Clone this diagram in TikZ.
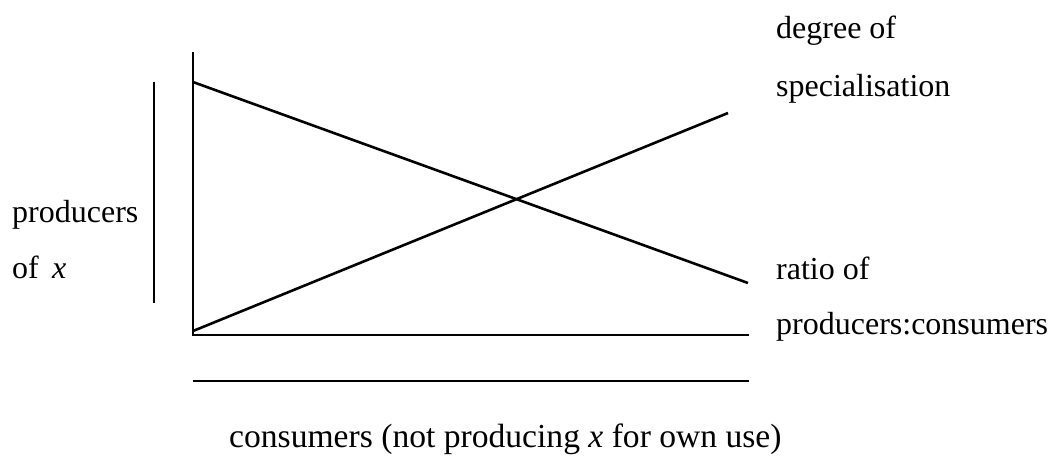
\documentclass[tikz,border=0pt]{standalone}
\usepackage{fontspec}
\setmainfont{Liberation Serif}
\begin{document}
\begin{tikzpicture}[x=1pt,y=-1pt,
  lbl/.style={anchor=base west, inner sep=0pt, font=\fontsize{32}{38}\selectfont},
  axis/.style={line width=2pt},
  trend/.style={line width=2.6pt}]
\useasboundingbox (0,0) rectangle (1056,459);
% axes and bars
\coordinate (ytop) at (193,52);
\coordinate (origin) at (193,335);
\coordinate (xend) at (749,335);
\coordinate (bl) at (193,381);
\coordinate (br) at (749,381);
\coordinate (bartop) at (154,82);
\coordinate (barbot) at (154,303);
% trend lines
\coordinate (s0) at (193,331);
\coordinate (s1) at (728,113);
\coordinate (r0) at (193,82);
\coordinate (r1) at (748,283);
\draw[axis] (ytop) -- (origin) -- (xend);
\draw[axis] (bl) -- (br);
\draw[axis] (bartop) -- (barbot);
\draw[trend] (s0) -- (s1);
\draw[trend] (r0) -- (r1);
% labels
\node[lbl] (deg) at (776,38) {degree of};
\node[lbl] (spec) at (776,96) {specialisation};
\node[lbl] (ratio) at (776,279) {ratio of};
\node[lbl] (pc) at (776,334) {producers:consumers};
\node[lbl] (prod) at (12,222) {producers};
\node[lbl] (ofx) at (12,278) {of \,\textit{x}};
\node[lbl, font=\fontsize{33.6}{40}\selectfont] (cons) at (229,447) {consumers (not producing \textit{x} for own use)};
\end{tikzpicture}
\end{document}
